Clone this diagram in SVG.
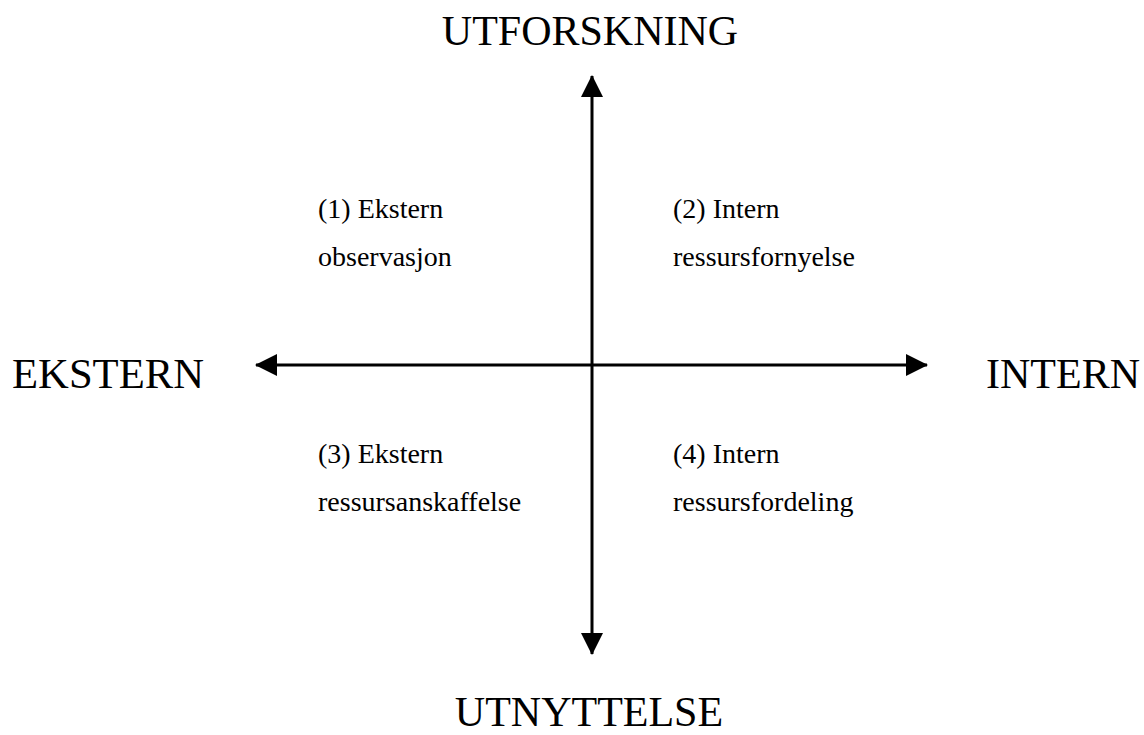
<svg xmlns="http://www.w3.org/2000/svg" width="1144" height="735" viewBox="0 0 1144 735">
<style>
.axis{font-family:"Liberation Serif","Times New Roman",serif;font-size:42px;fill:#000}
.q{font-family:"Liberation Serif","Times New Roman",serif;font-size:28px;fill:#000}
.ln{stroke:#000;stroke-width:3;fill:none}
</style>
<defs>
<marker id="ah" viewBox="0 0 22 22" refX="21" refY="11" markerWidth="22" markerHeight="22" markerUnits="userSpaceOnUse" orient="auto">
<path d="M0,0 L22,11 L0,22 Z" fill="#000"/>
</marker>
</defs>
<rect width="1144" height="735" fill="#fff"/>
<g id="connectors">
<line class="ln" x1="592" y1="365" x2="592" y2="76" marker-end="url(#ah)"/>
<line class="ln" x1="592" y1="365" x2="592" y2="654" marker-end="url(#ah)"/>
<line class="ln" x1="592" y1="365" x2="256" y2="365" marker-end="url(#ah)"/>
<line class="ln" x1="592" y1="365" x2="927" y2="365" marker-end="url(#ah)"/>
</g>
<g id="top"><text class="axis" x="590" y="45" text-anchor="middle">UTFORSKNING</text></g>
<g id="bottom"><text class="axis" x="589" y="726" text-anchor="middle">UTNYTTELSE</text></g>
<g id="left"><text class="axis" x="12" y="388" textLength="192" lengthAdjust="spacingAndGlyphs">EKSTERN</text></g>
<g id="right"><text class="axis" x="986" y="388">INTERN</text></g>
<g id="q1"><text class="q" x="318" y="218">(1) Ekstern</text><text class="q" x="318" y="266">observasjon</text></g>
<g id="q2"><text class="q" x="673" y="218">(2) Intern</text><text class="q" x="673" y="266">ressursfornyelse</text></g>
<g id="q3"><text class="q" x="318" y="463">(3) Ekstern</text><text class="q" x="318" y="511">ressursanskaffelse</text></g>
<g id="q4"><text class="q" x="673" y="463">(4) Intern</text><text class="q" x="673" y="511">ressursfordeling</text></g>
</svg>
